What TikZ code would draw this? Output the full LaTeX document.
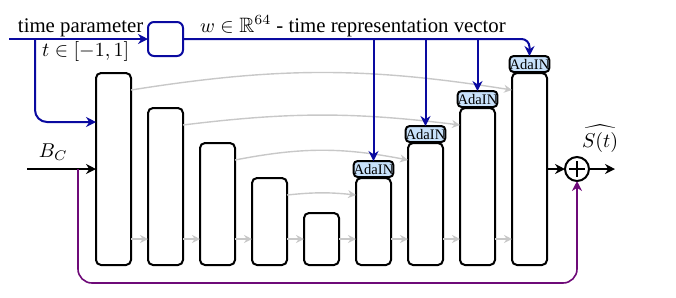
\documentclass[tikz,border=0pt]{standalone}
\usepackage{amsmath,amssymb}
\usepackage{fontspec}
\setmainfont{Liberation Serif}
\usetikzlibrary{arrows.meta,calc}
\definecolor{tblue}{RGB}{10,10,160}
\definecolor{tpurple}{RGB}{110,10,120}
\definecolor{adablue}{RGB}{200,225,250}
\definecolor{skipgray}{RGB}{200,200,200}
\begin{document}
\begin{tikzpicture}[x=0.5pt,y=-0.5pt,
  blk/.style={draw, line width=1pt, rounded corners=2.5pt, minimum width=17.5pt, inner sep=0pt, outer sep=0pt, anchor=south west},
  ada/.style={draw, line width=1pt, rounded corners=2pt, fill=adablue, minimum width=17.5pt, minimum height=8pt, inner sep=0pt, outer sep=0pt, anchor=south, font=\fontsize{7.3}{8}\selectfont},
  skip/.style={draw=skipgray, line width=0.7pt, -{Stealth[length=4pt,width=4pt]}},
  bl/.style={draw=tblue, line width=1pt, -{Stealth[length=5pt,width=5pt]}},
  blkarrow/.style={draw=black, line width=1pt, -{Stealth[length=5pt,width=5pt]}},
  pur/.style={draw=tpurple, line width=0.8pt, -{Stealth[length=5pt,width=5pt]}},
  lbl/.style={anchor=base west, inner sep=0pt, outer sep=0pt, font=\fontsize{10.4}{12}\selectfont}]
\useasboundingbox (0,0) rectangle (676,297);

% blocks
\node[blk, minimum height=96pt]   (b1) at (96,265) {};
\node[blk, minimum height=78.5pt] (b2) at (148,265) {};
\node[blk, minimum height=61pt]   (b3) at (200,265) {};
\node[blk, minimum height=43.5pt] (b4) at (252,265) {};
\node[blk, minimum height=26pt]   (b5) at (304,265) {};
\node[blk, minimum height=43.5pt] (b6) at (356,265) {};
\node[blk, minimum height=61pt]   (b7) at (408,265) {};
\node[blk, minimum height=78.5pt] (b8) at (460,265) {};
\node[blk, minimum height=96pt]   (b9) at (512,265) {};

% AdaIN
\node[ada] (a6) at ($(b6.north)+(0,-1)$) {AdaIN};
\node[ada] (a7) at ($(b7.north)+(0,-1)$) {AdaIN};
\node[ada] (a8) at ($(b8.north)+(0,-1)$) {AdaIN};
\node[ada] (a9) at ($(b9.north)+(0,-1)$) {AdaIN};

% bottom gray arrows
\foreach \i/\j in {1/2,2/3,3/4,4/5,5/6,6/7,7/8,8/9}{
  \draw[skip] ($(b\i.south east)+(0,-26)$) -- ($(b\j.south west)+(0,-26)$);
}
% skip connections
\draw[skip] ($(b1.north east)+(0,17)$) to[bend left=9] ($(b9.north west)+(0,17)$);
\draw[skip] ($(b2.north east)+(0,17)$) to[bend left=7] ($(b8.north west)+(0,17)$);
\draw[skip] ($(b3.north east)+(0,17)$) to[bend left=11] ($(b7.north west)+(0,17)$);
\draw[skip] ($(b4.north east)+(0,17)$) to[bend left=6] ($(b6.north west)+(0,17)$);

% time branch
\node[draw=tblue, line width=1pt, rounded corners=3pt, minimum width=17.5pt, minimum height=17pt, inner sep=0pt, outer sep=0pt] (tb) at (165.5,39) {};
\coordinate (tin) at (9,39);
\coordinate (tsplit) at (35,39);
\draw[bl] (tin) -- (tb.west);
\draw[bl, rounded corners=6pt] (tsplit) |- ($(b1.north west)+(0,49)$);
\draw[bl, rounded corners=4pt] (tb.east) -| (a9.north);
\foreach \i in {6,7,8}{
  \draw[bl] (a\i.north |- tb.east) -- (a\i.north);
}

% input B_C and residual
\node[circle, draw, line width=1pt, minimum size=12pt, inner sep=0pt, outer sep=0pt] (plus) at (577,169) {};
\draw[line width=1pt] ($(plus.center)+(-8,0)$) -- ($(plus.center)+(8,0)$);
\draw[line width=1pt] ($(plus.center)+(0,-8)$) -- ($(plus.center)+(0,8)$);
\coordinate (bcin) at (27,169);
\coordinate (bcsplit) at (78,169);
\coordinate (bot) at (0,283);
\coordinate (out) at (615,169);
\draw[blkarrow] (bcin) -- ($(b1.north west)+(0,96)$);
\draw[pur, rounded corners=7pt] (bcsplit) -- (bcsplit |- bot) -- (plus |- bot) -- (plus.south);
\draw[blkarrow] ($(b9.north east)+(0,96)$) -- (plus.west);
\draw[blkarrow] (plus.east) -- (out);

% labels
\node[lbl] (tp) at (18,32) {time parameter};
\node[lbl] (tr) at (42,56) {$t\in[-1,1]$};
\node[lbl] (wl) at (200,32) {$w\in\mathbb{R}^{64}$ - time representation vector};
\node[lbl] (bc) at (39,157) {$B_C$};
\node[lbl] (sh) at (582,147) {$\widehat{S(t)}$};
\end{tikzpicture}
\end{document}
